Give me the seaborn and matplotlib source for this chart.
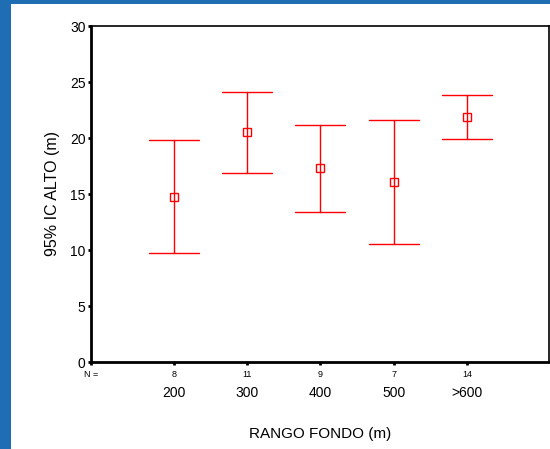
"""Error bar chart: 95% IC ALTO by RANGO FONDO"""

import numpy as np
import pandas as pd
import seaborn as sns
import matplotlib.pyplot as plt
from matplotlib.patches import Rectangle
from matplotlib import transforms

##### data ###################################################################
categories = ["200", "300", "400", "500", ">600"]
n_counts = [8, 11, 9, 7, 14]
ci_low = [9.7, 16.9, 13.4, 10.5, 19.9]
ci_mean = [14.7, 20.5, 17.3, 16.1, 21.9]
ci_high = [19.8, 24.1, 21.2, 21.6, 23.8]

RED = "#ff0000"
BLUE = "#1f6db3"

# long table: low / mean / high per group -> median = mean, 100% interval = CI
df = pd.DataFrame(
    {
        "rango": np.repeat(categories, 3),
        "alto": np.ravel(np.column_stack([ci_low, ci_mean, ci_high])),
    }
)

sns.set_style("white", {"xtick.bottom": True, "ytick.left": True,
                        "text.color": "black", "axes.labelcolor": "black",
                        "xtick.color": "black", "ytick.color": "black"})
plt.rcParams["font.family"] = ["Liberation Sans", "DejaVu Sans"]

fig = plt.figure(figsize=(5.5, 4.49), dpi=100)
fig.patch.set_facecolor(BLUE)
# white slide panel (behind the axes)
fig.patches.append(
    Rectangle((11 / 550, 0), 1, 1 - 4 / 449, transform=fig.transFigure,
              facecolor="white", edgecolor="none", zorder=-10)
)

ax = fig.add_axes([91 / 550, 1 - 362 / 449, 458 / 550, 336 / 449])
ax.set_facecolor("white")

sns.pointplot(
    data=df,
    x="rango",
    y="alto",
    order=categories,
    estimator="median",
    errorbar=("pi", 100),
    capsize=0.68,
    color=RED,
    linestyle="none",
    marker="s",
    markersize=6,
    markerfacecolor="none",
    markeredgecolor=RED,
    markeredgewidth=1,
    err_kws={"linewidth": 1, "color": RED},
    ax=ax,
)

ax.set_ylim(0, 30)
ax.set_xlim(-1.13, 5.12)
ax.set_yticks([0, 5, 10, 15, 20, 25, 30])
ax.set_xticks([-1.13] + list(range(len(categories))))
ax.set_xticklabels([""] + categories, fontsize=10)
ax.tick_params(axis="y", direction="out", length=2, width=2, labelsize=10, pad=2,
               colors="black")
ax.tick_params(axis="x", direction="out", length=2, width=2, pad=15, colors="black")

for side in ["left", "right", "top", "bottom"]:
    ax.spines[side].set_visible(True)
    ax.spines[side].set_color("black")
ax.spines["left"].set_linewidth(2)
ax.spines["bottom"].set_linewidth(2)
ax.spines["top"].set_linewidth(1.2)
ax.spines["right"].set_linewidth(1.2)

# N counts row under the axis
trans = transforms.blended_transform_factory(ax.transData, ax.transAxes)
for i, n in enumerate(n_counts):
    ax.text(i, -0.025, str(n), transform=trans, ha="center", va="top", fontsize=6.5)
ax.text(0.0, -0.025, "N =", transform=ax.transAxes, ha="center", va="top", fontsize=6.5)

ax.set_xlabel("RANGO FONDO (m)", fontsize=11, labelpad=20, color="black")
ax.set_ylabel("95% IC ALTO (m)", fontsize=11.5, labelpad=7, color="black")

fig.savefig("out.png", dpi=100)
plt.close(fig)
